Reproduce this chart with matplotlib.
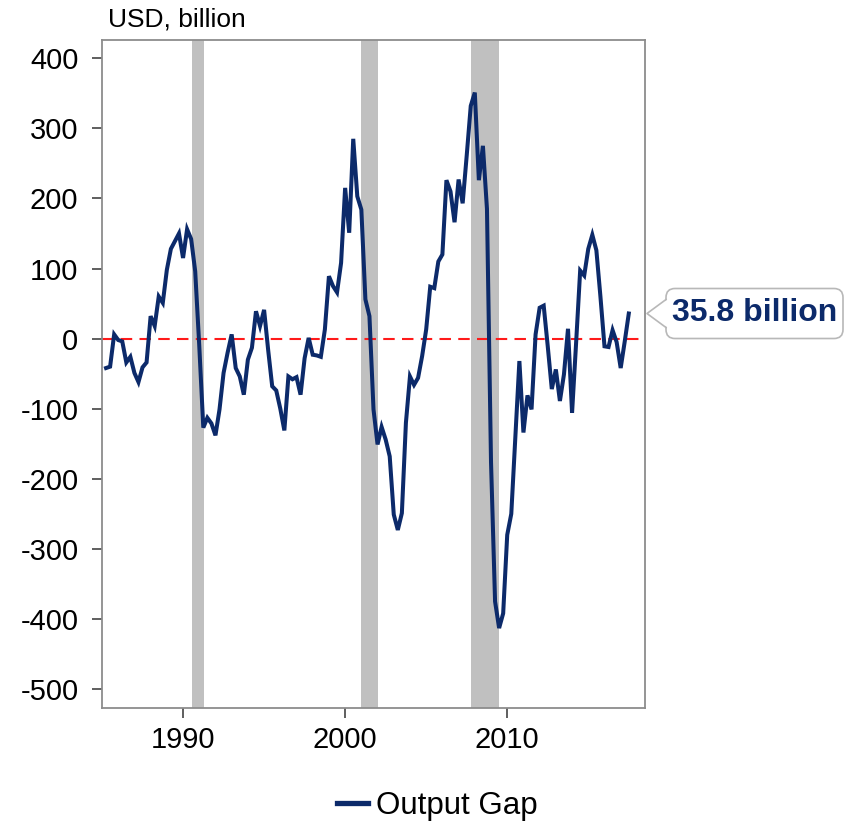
import numpy as np
import pandas as pd
import matplotlib
matplotlib.use("Agg")
import matplotlib.pyplot as plt
from matplotlib.patches import FancyBboxPatch, Polygon
from matplotlib.lines import Line2D

plt.rcParams['font.family'] = ['Liberation Sans', 'DejaVu Sans']
plt.rcParams['axes.unicode_minus'] = False

# ---------------- data ----------------
start_quarter = "1985Q2"
end_quarter = "2017Q3"
output_gap = [
    -42, -40, 6, -2, -4, -34, -26, -49, -62, -41,
    -34, 32, 18, 60, 51, 98, 128, 139, 150, 115,
    156, 142, 96, -10, -127, -113, -121, -138, -101, -49,
    -20, 6, -42, -54, -80, -30, -13, 39, 18, 41,
    -16, -68, -74, -100, -131, -54, -58, -55, -80, -28,
    1, -23, -24, -26, 13, 89, 75, 66, 108, 215,
    151, 285, 203, 184, 56, 32, -101, -151, -126, -144,
    -168, -251, -273, -249, -120, -54, -66, -56, -25, 13,
    74, 72, 110, 120, 226, 210, 166, 227, 193, 261,
    332, 351, 226, 275, 185, -176, -375, -413, -392, -280,
    -250, -140, -32, -134, -81, -101, 6, 44, 47, -11,
    -72, -44, -89, -51, 14, -106, -6, 97, 90, 128,
    148, 126, 60, -11, -12, 12, -5, -42, -4, 35.8,
]
recession_start = [1990.55, 2001.0, 2007.75]
recession_end = [1991.30, 2002.0, 2009.5]
x_ticks = [1990, 2000, 2010]
y_ticks = [400, 300, 200, 100, 0, -100, -200, -300, -400, -500]
series_label = "Output Gap"
unit_label = "USD, billion"
last_label = "35.8 billion"

periods = pd.period_range(start_quarter, end_quarter, freq="Q")
years = np.array([p.year + (p.quarter - 1) / 4 for p in periods])

# ---------------- style ----------------
NAVY = "#0c2a6a"
W, H = 850, 824
fig = plt.figure(figsize=(W / 100, H / 100), dpi=100)
ax = fig.add_axes([102 / W, 1 - 708 / H, (645 - 102) / W, (708 - 40) / H])

for s, e in zip(recession_start, recession_end):
    ax.axvspan(s, e, color="#c0c0c0", lw=0, zorder=1)

ax.axhline(0, color="#ff1a1a", lw=1.5, dashes=(5.5, 3.5), zorder=2)
ax.plot(years, output_gap, color=NAVY, lw=2.9, zorder=3, solid_joinstyle="miter")

ax.set_xlim(1985.0, 2018.5)
ax.set_ylim(-527, 426)
ax.set_xticks(x_ticks)
ax.set_yticks(y_ticks)
ax.tick_params(axis="both", labelsize=21, length=7, width=1.1, color="#333333")
ax.tick_params(axis="y", pad=10)
ax.tick_params(axis="x", pad=6)
for sp in ax.spines.values():
    sp.set_color("#8c8c8c")
    sp.set_linewidth(1.3)

fig.text(108 / W, 1 - 20 / H, unit_label, fontsize=19, ha="left", va="center")

# legend
handle = Line2D([], [], color=NAVY, lw=3.8)
fig.legend([handle], [series_label], loc="center", bbox_to_anchor=(437 / W, 1 - 806 / H),
           frameon=False, fontsize=22.5, handlelength=1.0, handletextpad=0.25)

# callout for the last value
fig.canvas.draw()
tx, ty = ax.transData.transform((2018.5, output_gap[-1]))
tx += 2
box_left = tx + 19
box = FancyBboxPatch((box_left, ty - 25), 177, 50,
                     boxstyle="round,pad=0,rounding_size=9",
                     transform=None, fc="white", ec="#b8b8b8", lw=1.2,
                     clip_on=False, zorder=5)
fig.patches.append(box)
tri = Polygon([(tx, ty), (box_left + 1.5, ty + 14), (box_left + 1.5, ty - 14)],
              closed=True, transform=None, fc="white", ec="none", clip_on=False, zorder=6)
fig.patches.append(tri)
edge = Line2D([box_left, tx, box_left], [ty + 14, ty, ty - 14], transform=None,
              color="#b8b8b8", lw=1.2, zorder=7)
fig.lines.append(edge)
fig.text((box_left + 88.5) / W, (ty + 1) / H, last_label, fontsize=23, fontweight="bold",
         color=NAVY, ha="center", va="center", zorder=8)

fig.savefig("out.png", dpi=100)
